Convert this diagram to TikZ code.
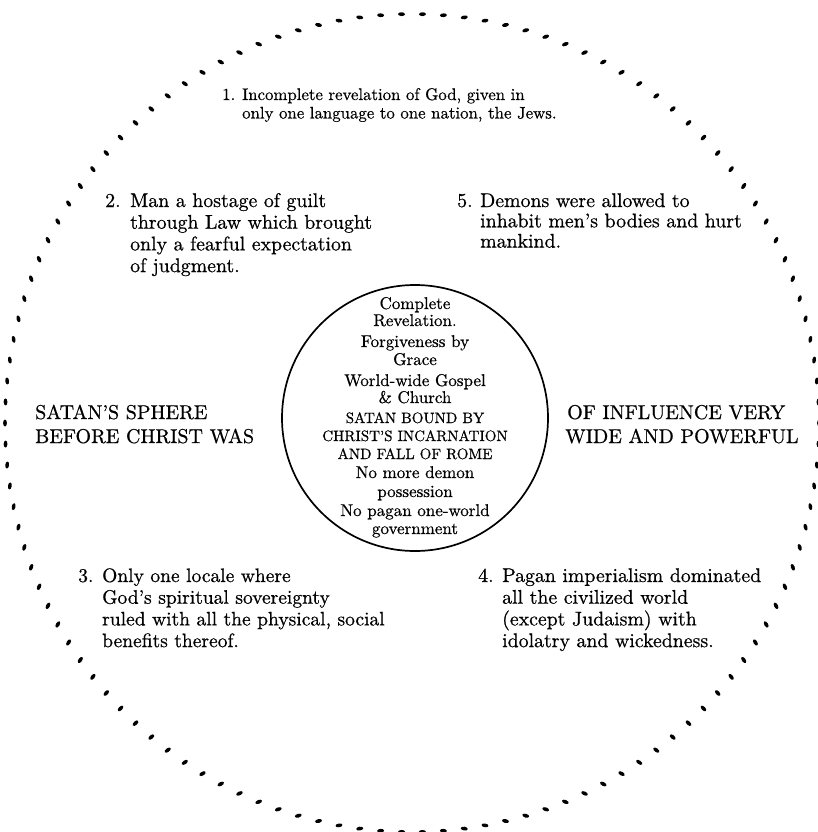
\documentclass[tikz,border=0pt]{standalone}
\usepackage{fontspec}
\setmainfont{lmroman10-regular}[Extension=.otf, FakeBold=0.6]
\newcommand\Ln[1]{\smash{#1}}
\begin{document}
\begin{tikzpicture}[x=1pt,y=-1pt,
  outer/.style={font=\fontsize{19.8}{21.7}\selectfont, inner sep=0pt, anchor=base west},
  heading/.style={font=\fontsize{20}{24}\selectfont, inner sep=0pt, anchor=base west},
  innerlc/.style={font=\fontsize{17}{18}\selectfont, inner sep=0pt, anchor=base},
  innercaps/.style={font=\fontsize{15}{18}\selectfont, inner sep=0pt, anchor=base},
  ringdot/.style={fill=black},
  core/.style={draw, circle, line width=1.7pt, minimum size=266pt, inner sep=0pt}]
\useasboundingbox (0,0) rectangle (818,832);
\clip (0,0) rectangle (818,832);
% dotted outer ring
\foreach \k in {0,...,121}{
  \pgfmathsetmacro\t{2.95082*\k}
  \fill[ringdot, shift={({412+407*cos(\t)},{423+409*sin(\t)})}, rotate=\t+90]
    (0,0) ellipse [x radius=3.5, y radius=1.9];
}
% inner circle
\node[core] (core) at (415,418) {};
% numbered items
\node[outer, font=\fontsize{16.8}{18.5}\selectfont] (t1) at (222,100) {\begin{tabular}[t]{@{}l@{}l@{}}\makebox[20pt][l]{1.} & \Ln{Incomplete revelation of God, given in}\\ & \Ln{only one language to one nation, the Jews.}\end{tabular}};
\node[outer] (t2) at (105,207) {\begin{tabular}[t]{@{}l@{}l@{}}\makebox[25pt][l]{2.} & \Ln{Man a hostage of guilt}\\ & \Ln{through Law which brought}\\ & \Ln{only a fearful expectation}\\ & \Ln{of judgment.}\end{tabular}};
\node[outer, font=\fontsize{19.8}{20.3}\selectfont] (t5) at (457,207) {\begin{tabular}[t]{@{}l@{}l@{}}\makebox[23pt][l]{5.} & \Ln{Demons were allowed to}\\ & \Ln{inhabit men's bodies and hurt}\\ & \Ln{mankind.}\end{tabular}};
\node[outer, font=\fontsize{19.5}{21.7}\selectfont] (t3) at (78,582) {\begin{tabular}[t]{@{}l@{}l@{}}\makebox[24pt][l]{3.} & \Ln{Only one locale where}\\ & \Ln{God's spiritual sovereignty}\\ & \Ln{ruled with all the physical, social}\\ & \Ln{benefits thereof.}\end{tabular}};
\node[outer] (t4) at (478,582) {\begin{tabular}[t]{@{}l@{}l@{}}\makebox[24pt][l]{4.} & \Ln{Pagan imperialism dominated}\\ & \Ln{all the civilized world}\\ & \Ln{(except Judaism) with}\\ & \Ln{idolatry and wickedness.}\end{tabular}};
% side headings
\node[heading] (hl) at (35,419) {\begin{tabular}[t]{@{}l@{}}\Ln{SATAN'S SPHERE}\\ \Ln{BEFORE CHRIST WAS}\end{tabular}};
\node[heading] (hr) at (565,419) {\begin{tabular}[t]{@{}l@{}}\Ln{\hspace*{2pt}OF INFLUENCE VERY}\\ \Ln{WIDE AND POWERFUL}\end{tabular}};
% inner text
\node[innerlc] (c1) at (415,309) {Complete};
\node[innerlc] (c2) at (415,326) {Revelation.};
\node[innerlc] (c3) at (415,347) {Forgiveness by};
\node[innerlc] (c4) at (415,365) {Grace};
\node[innerlc] (c5) at (415,386) {World-wide Gospel};
\node[innerlc] (c6) at (415,403) {\& Church};
\node[innercaps] (c7) at (415,423) {SATAN BOUND BY};
\node[innercaps] (c8) at (415,441) {CHRIST'S INCARNATION};
\node[innercaps] (c9) at (415,459) {AND FALL OF ROME};
\node[innerlc] (c10) at (415,478) {No more demon};
\node[innerlc] (c11) at (415,497) {possession};
\node[innerlc] (c12) at (415,516) {No pagan one-world};
\node[innerlc] (c13) at (415,534) {government};
\end{tikzpicture}
\end{document}
